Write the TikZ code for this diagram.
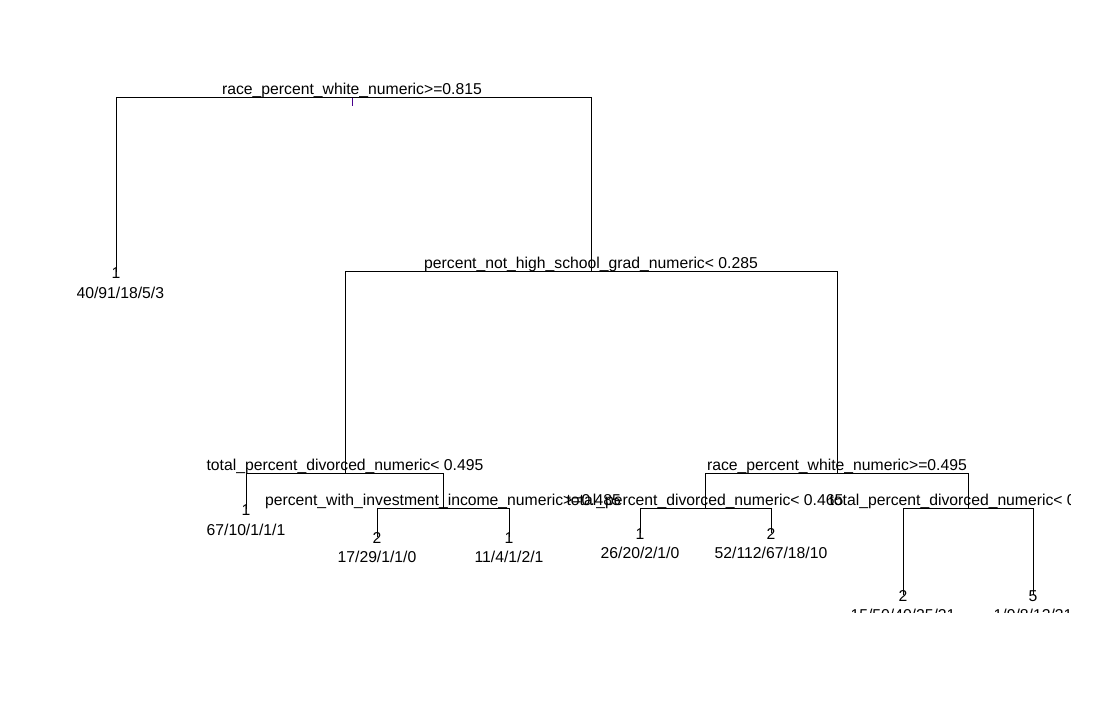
\documentclass[tikz,border=0pt]{standalone}
\usepackage{fontspec}
\setmainfont{Liberation Sans}
\usetikzlibrary{calc}
\definecolor{tickcol}{RGB}{72,0,140}
\tikzset{
	treefont/.style={font=\fontsize{11.8}{14}\selectfont},
	splitlabel/.style={treefont, anchor=base, inner sep=0pt},
	leaflabel/.style={treefont, anchor=base, inner sep=0pt},
	branch/.style={line width=0.75pt}
}

\begin{document}
\begin{tikzpicture}[x=0.75pt, y=-0.75pt]
				\useasboundingbox (0,0) rectangle (1111,712);
				
				\coordinate (root) at (352,98);
				\coordinate (leafA) at (116,272);
				\coordinate (grad) at (591,272);
				\coordinate (divA) at (345,474);
				\coordinate (leafB) at (246,509);
				\coordinate (invest) at (443,509);
				\coordinate (leafC) at (377,537);
				\coordinate (leafD) at (509,537);
				\coordinate (white) at (837,474);
				\coordinate (divB) at (705,509);
				\coordinate (leafE) at (640,533);
				\coordinate (leafF) at (771,533);
				\coordinate (divC) at (968,509);
				\coordinate (leafG) at (903,595);
				\coordinate (leafH) at (1033,595);
				
				\draw[branch] (root) -| (leafA);
				\draw[branch] (root) -| (grad);
				\draw[branch] (grad) -| (divA);
				\draw[branch] (grad) -| (white);
				\draw[branch] (divA) -| (leafB);
				\draw[branch] (divA) -| (invest);
				\draw[branch] (invest) -| (leafC);
				\draw[branch] (invest) -| (leafD);
				\draw[branch] (white) -| (divB);
				\draw[branch] (white) -| (divC);
				\draw[branch] (divB) -| (leafE);
				\draw[branch] (divB) -| (leafF);
				\draw[branch] (divC) -| (leafG);
				\draw[branch] (divC) -| (leafH);
				\draw[tickcol, line width=0.75pt] (root) -- ++(0,8);
				
				\begin{scope}
				\clip (77,0) rectangle (1070,613);
				% split rules
				\node[splitlabel] (rootlbl) at ($(root)+(0,-3)$) {race\_percent\_white\_numeric>=0.815};
				\node[splitlabel] (gradlbl) at ($(grad)+(0,-3)$) {percent\_not\_high\_school\_grad\_numeric< 0.285};
				\node[splitlabel] (divAlbl) at ($(divA)+(0,-3)$) {total\_percent\_divorced\_numeric< 0.495};
				\node[splitlabel] (investlbl) at ($(invest)+(0,-3)$) {percent\_with\_investment\_income\_numeric>=0.485};
				\node[splitlabel] (whitelbl) at ($(white)+(0,-3)$) {race\_percent\_white\_numeric>=0.495};
				\node[splitlabel] (divBlbl) at ($(divB)+(0,-3)$) {total\_percent\_divorced\_numeric< 0.465};
				\node[splitlabel] (divClbl) at ($(divC)+(0,-3)$) {total\_percent\_divorced\_numeric< 0.555};
				
				% leaves: class, then counts
				\node[leaflabel] (leafAcls) at ($(leafA)+(0,7)$) {1};
				\node[leaflabel] (leafAnum) at ($(leafA)+(0,27)$) {140/91/18/5/3};
				\node[leaflabel] (leafBcls) at ($(leafB)+(0,7)$) {1};
				\node[leaflabel] (leafBnum) at ($(leafB)+(0,27)$) {67/10/1/1/1};
				\node[leaflabel] (leafCcls) at ($(leafC)+(0,7)$) {2};
				\node[leaflabel] (leafCnum) at ($(leafC)+(0,26)$) {17/29/1/1/0};
				\node[leaflabel] (leafDcls) at ($(leafD)+(0,7)$) {1};
				\node[leaflabel] (leafDnum) at ($(leafD)+(0,26)$) {11/4/1/2/1};
				\node[leaflabel] (leafEcls) at ($(leafE)+(0,7)$) {1};
				\node[leaflabel] (leafEnum) at ($(leafE)+(0,26)$) {26/20/2/1/0};
				\node[leaflabel] (leafFcls) at ($(leafF)+(0,7)$) {2};
				\node[leaflabel] (leafFnum) at ($(leafF)+(0,26)$) {52/112/67/18/10};
				\node[leaflabel] (leafGcls) at ($(leafG)+(0,7)$) {2};
				\node[leaflabel] (leafGnum) at ($(leafG)+(0,26)$) {15/50/40/25/21};
				\node[leaflabel] (leafHcls) at ($(leafH)+(0,7)$) {5};
				\node[leaflabel] (leafHnum) at ($(leafH)+(0,26)$) {1/9/8/12/31};
				\end{scope}
			\end{tikzpicture}
\end{document}
